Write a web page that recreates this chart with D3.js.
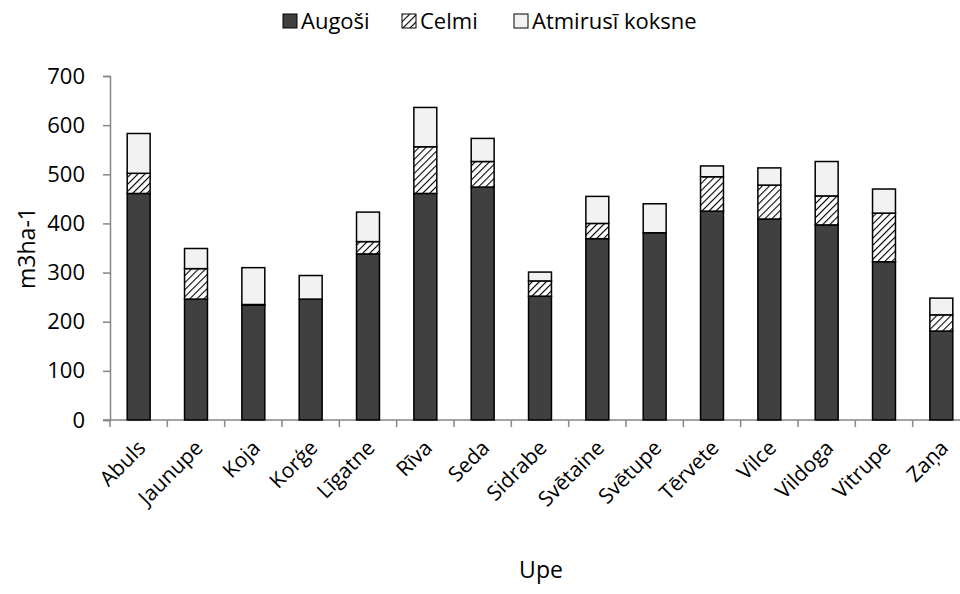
<!DOCTYPE html>
<html>
<head>
<meta charset="utf-8">
<script src="https://cdnjs.cloudflare.com/ajax/libs/d3/7.8.5/d3.min.js"></script>
<style>
  body { margin: 0; background: #fff; }
  svg { display: block; font-family: "Open Sans", sans-serif; }
</style>
</head>
<body>
<div id="chart"></div>
<script>
// rivers
var rivers = ['Abuls', 'Jaunupe', 'Koja', 'Korģe', 'Līgatne', 'Rīva', 'Seda', 'Sidrabe',
              'Svētaine', 'Svētupe', 'Tērvete', 'Vilce', 'Vildoga', 'Vitrupe', 'Zaņa'];
var augosi  = [461, 246, 234, 246, 338, 461, 474, 252, 369, 381, 425, 409, 397, 322, 181];
var celmi   = [41, 62, 1, 0, 25, 95, 52, 31, 31, 0, 70, 69, 59, 99, 33];
var atmirusi = [81, 41, 75, 48, 60, 80, 47, 18, 55, 59, 22, 35, 70, 49, 34];
var seriesNames = ['Augoši', 'Celmi', 'Atmirusī koksne'];
var yTicks = [0, 100, 200, 300, 400, 500, 600, 700];

var width = 960, height = 594;
var svg = d3.select('#chart').append('svg')
  .attr('width', width).attr('height', height);

// hatch pattern for Celmi
var defs = svg.append('defs');
var pat = defs.append('pattern')
  .attr('id', 'hatch')
  .attr('patternUnits', 'userSpaceOnUse')
  .attr('width', 5).attr('height', 5)
  .attr('patternTransform', 'rotate(45)');
pat.append('rect').attr('width', 5).attr('height', 5).attr('fill', '#fff');
pat.append('line').attr('x1', 0).attr('y1', 0).attr('x2', 0).attr('y2', 5)
  .attr('stroke', '#000').attr('stroke-width', 2.2);

var fills = ['#404040', 'url(#hatch)', '#f2f2f2'];

var x = d3.scaleBand().domain(rivers).range([110, 970]).paddingInner(0.6).paddingOuter(0.3);
var xb = d3.scaleBand().domain(rivers).range([110, 970]);
var y = d3.scaleLinear().domain([0, 700]).range([420, 76]);

var rows = rivers.map(function(r, i) {
  return { river: r, 'Augoši': augosi[i], 'Celmi': celmi[i], 'Atmirusī koksne': atmirusi[i] };
});
var stack = d3.stack().keys(seriesNames)(rows);

// y axis
var yAxis = svg.append('g')
  .attr('transform', 'translate(110,0)')
  .call(d3.axisLeft(y).tickValues(yTicks).tickSize(7).tickPadding(18));
yAxis.select('.domain').attr('stroke', '#868686').attr('stroke-width', 1.5);
yAxis.selectAll('.tick line').attr('stroke', '#868686').attr('stroke-width', 1.5);
yAxis.selectAll('.tick text').attr('font-size', 22).attr('fill', '#000')
  .attr('font-family', '"Open Sans", sans-serif');

// x axis
var xAxis = svg.append('g')
  .attr('transform', 'translate(0,420)');
xAxis.append('line').attr('x1', 103).attr('x2', 970).attr('y1', 0).attr('y2', 0)
  .attr('stroke', '#868686').attr('stroke-width', 1.5);
xAxis.selectAll('.xt').data(rivers.concat(['end'])).enter().append('line')
  .attr('x1', function(d, i) { return i < rivers.length ? xb(d) : xb.range()[1]; })
  .attr('x2', function(d, i) { return i < rivers.length ? xb(d) : xb.range()[1]; })
  .attr('y1', 0).attr('y2', 7)
  .attr('stroke', '#868686').attr('stroke-width', 1.5);

xAxis.selectAll('.xl').data(rivers).enter().append('text')
  .attr('transform', function(d) {
    return 'translate(' + (xb(d) + xb.bandwidth() / 2 + 3) + ',24) rotate(-45)';
  })
  .attr('text-anchor', 'end')
  .attr('dy', '0.35em')
  .attr('font-size', 21)
  .text(function(d) { return d; });

// bars
var layers = svg.append('g').selectAll('g').data(stack).enter().append('g')
  .attr('fill', function(d, i) { return fills[i]; });
layers.selectAll('rect').data(function(d) { return d; }).enter().append('rect')
  .attr('x', function(d) { return x(d.data.river); })
  .attr('width', x.bandwidth())
  .attr('y', function(d) { return y(d[1]); })
  .attr('height', function(d) { return y(d[0]) - y(d[1]); })
  .attr('stroke', '#000').attr('stroke-width', 1.5);

// axis titles
svg.append('text')
  .attr('transform', 'translate(27,248) rotate(-90)')
  .attr('text-anchor', 'middle').attr('dy', '0.35em')
  .attr('font-size', 23)
  .text('m3ha-1');
svg.append('text')
  .attr('x', 541).attr('y', 570)
  .attr('text-anchor', 'middle').attr('dy', '0.35em')
  .attr('font-size', 23)
  .text('Upe');

// legend
var legX = [283, 402, 514];
var leg = svg.append('g').selectAll('g').data(seriesNames).enter().append('g')
  .attr('transform', function(d, i) { return 'translate(' + legX[i] + ',14)'; });
leg.append('rect').attr('width', 14).attr('height', 14)
  .attr('fill', function(d, i) { return fills[i]; })
  .attr('stroke', '#000').attr('stroke-width', 1);
leg.append('text').attr('x', 18).attr('y', 7).attr('dy', '0.35em')
  .attr('font-size', 22)
  .text(function(d) { return d; });
</script>
</body>
</html>
